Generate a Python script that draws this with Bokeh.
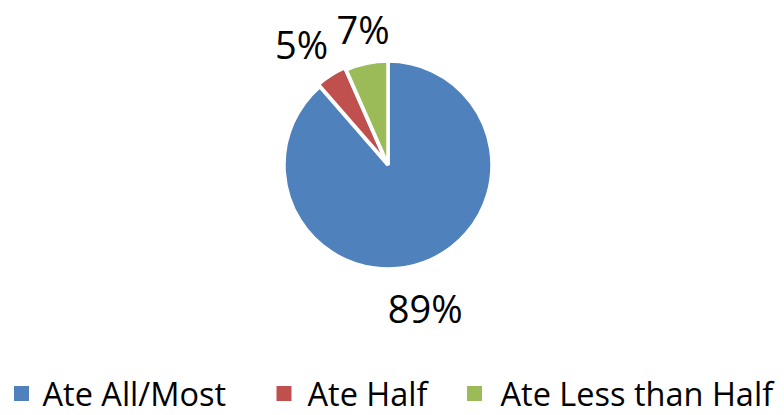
import math
from bokeh.plotting import figure
from bokeh.models import ColumnDataSource, Range1d
from bokeh.core.properties import value
from bokeh.embed import file_html
from bokeh.resources import INLINE

# ---- data ----
categories = ["Ate All/Most", "Ate Half", "Ate Less than Half"]
shares = [88.6, 4.8, 6.6]
colors = ["#4F81BD", "#C0504D", "#9BBB59"]

# ---- layout (pixel-like units, y measured from bottom) ----
W, H = 784, 415
cx, cy, r = 387.5, H - 164.5, 104
explode = [0, 2.5, 0]
label_r = [148, 149, 138]
label_nudge_deg = [-6, 3, -1.5]
label_size = "38px"
font = value("Open Sans")

p = figure(width=W, height=H, x_range=Range1d(0, W), y_range=Range1d(0, H),
           x_axis_type=None, y_axis_type=None, toolbar_location=None,
           output_backend="svg", min_border=0)
p.outline_line_color = None
p.grid.visible = False
p.background_fill_color = "white"
p.border_fill_color = "white"

total = sum(shares)
starts, ends, xs, ys, lx, ly, labels = [], [], [], [], [], [], []
cum = 0.0
for i, s in enumerate(shares):
    a0 = math.pi / 2 - 2 * math.pi * cum / total          # clockwise from 12 o'clock
    cum += s
    a1 = math.pi / 2 - 2 * math.pi * cum / total
    starts.append(a1)
    ends.append(a0)
    mid = (a0 + a1) / 2
    xs.append(cx + explode[i] * math.cos(mid))
    ys.append(cy + explode[i] * math.sin(mid))
    m2 = mid + math.radians(label_nudge_deg[i])
    lx.append(cx + label_r[i] * math.cos(m2))
    ly.append(cy + label_r[i] * math.sin(m2))
    labels.append(f"{round(100 * s / total)}%")

src = ColumnDataSource(dict(x=xs, y=ys, start=starts, end=ends, color=colors,
                            lx=lx, ly=ly, label=labels))
p.wedge(x="x", y="y", radius=r, start_angle="start", end_angle="end",
        fill_color="color", line_color="white", line_width=3.5, source=src)
p.text(x="lx", y="ly", text="label", text_align="center", text_baseline="middle",
       text_font=font, text_font_size=label_size, text_color="black", source=src)

# ---- legend ----
leg_sq_x = [21, 283.5, 474]
leg_tx = [42, 307, 500]
leg_y = H - 393
lsrc = ColumnDataSource(dict(sx=leg_sq_x, tx=leg_tx, y=[leg_y] * 3,
                             color=colors, name=categories))
p.rect(x="sx", y="y", width=15, height=15, fill_color="color", line_color=None,
       source=lsrc)
p.text(x="tx", y="y", text="name", text_align="left", text_baseline="middle",
       text_font=font, text_font_size="32.5px", text_color="black", source=lsrc)

open("out.html", "w").write(file_html(p, INLINE))
